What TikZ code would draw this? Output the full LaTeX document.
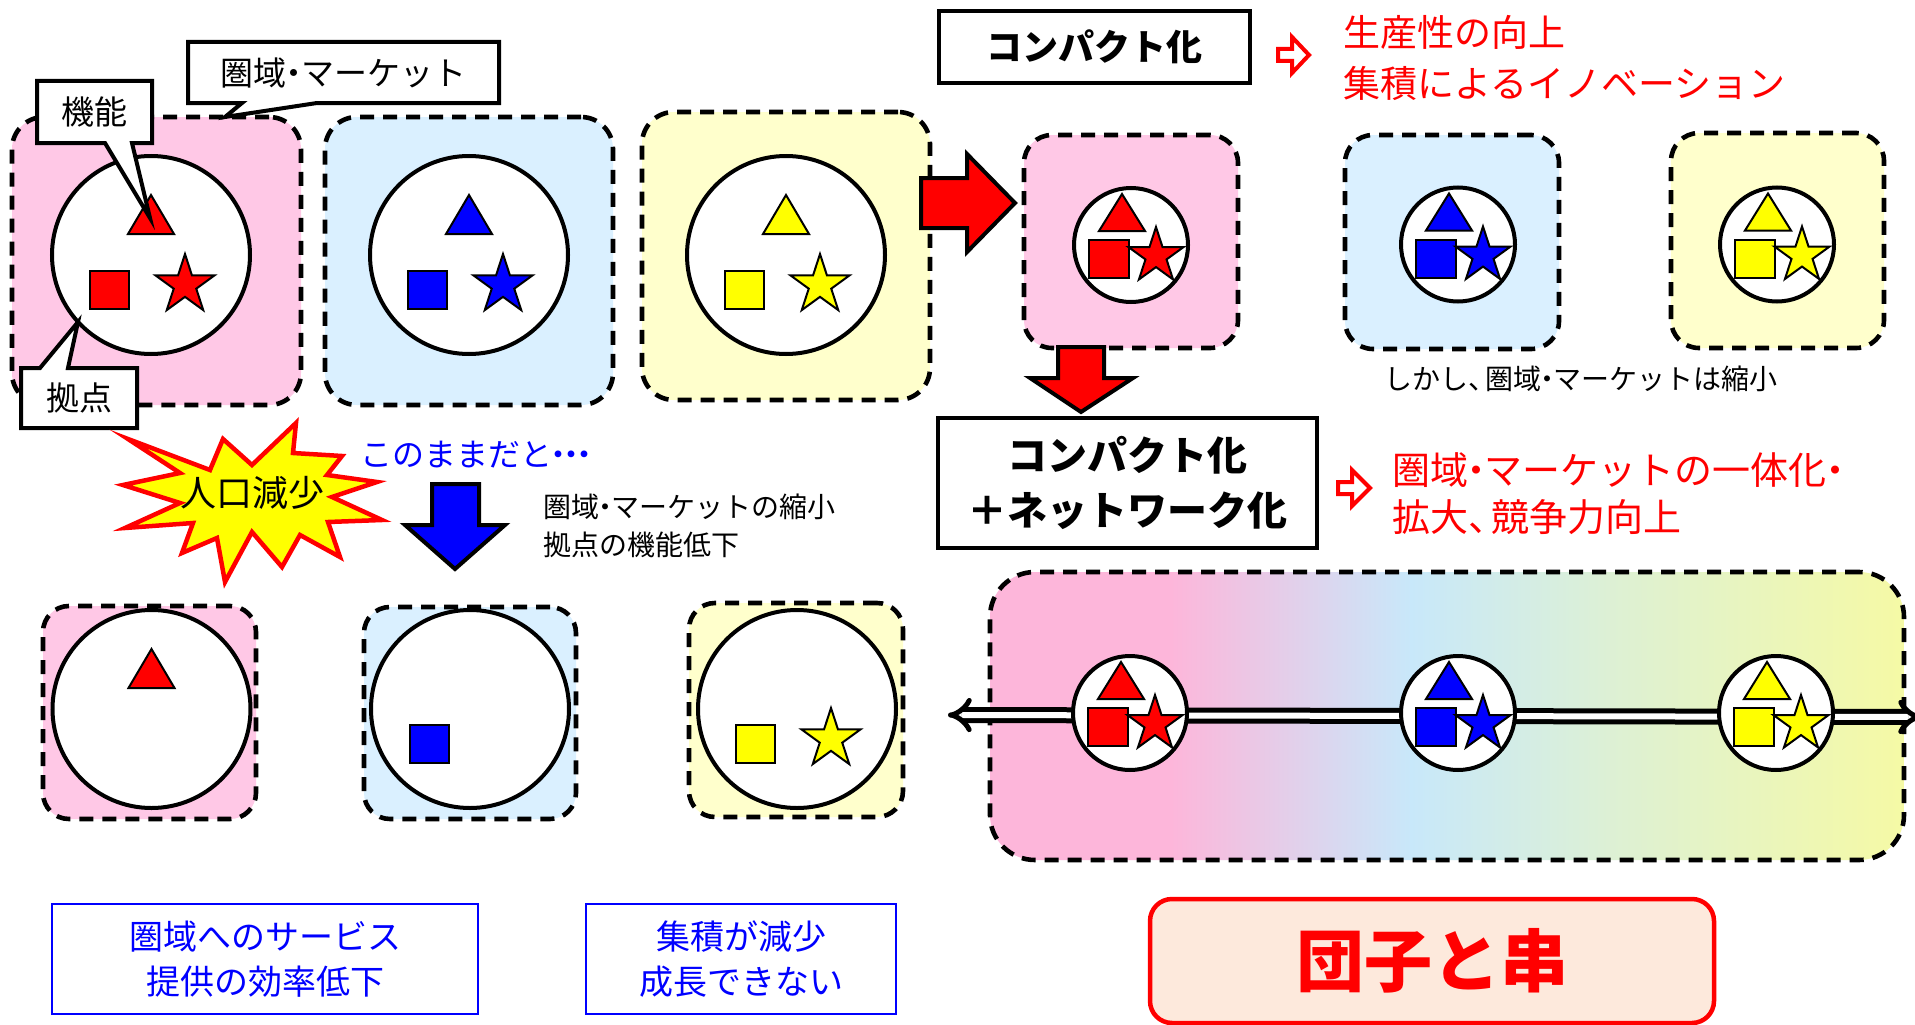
\documentclass[tikz,border=0pt]{standalone}
\usepackage{fontspec}
\setmainfont{Noto Sans CJK JP}
\usetikzlibrary{arrows.meta}
\definecolor{pinkA}{HTML}{FFC8E6}
\definecolor{blueA}{HTML}{DAF0FF}
\definecolor{yellowA}{HTML}{FFFFCC}
\definecolor{gpink}{HTML}{FDB6DA}
\definecolor{gblue}{HTML}{C8E8FA}
\definecolor{ggreen}{HTML}{DCF0D6}
\definecolor{gyellow}{HTML}{F6FAA4}
\definecolor{peach}{HTML}{FDE9DC}
\definecolor{shRed}{HTML}{FF0000}
\definecolor{shBlue}{HTML}{0000FF}
\definecolor{shYel}{HTML}{FFFF00}
\newcommand\fsz[2]{\fontsize{#1}{#2}\selectfont}
\newcommand\nd{\kern-0.28em・\kern-0.28em}
\newcommand\tc{、\kern-0.4em}
\newcommand\mystar[4]{\draw[shp,fill=#4,shift={(#1,#2)}] (-90:#3) -- (-54:{0.382*#3}) -- (-18:#3) -- (18:{0.382*#3}) -- (54:#3) -- (90:{0.382*#3}) -- (126:#3) -- (162:{0.382*#3}) -- (198:#3) -- (234:{0.382*#3}) -- cycle;}
\newcommand\setTri[3]{\draw[shp,fill=#3,shift={(#1,#2)}] (0,-60) -- (23,-21) -- (-23,-21) -- cycle;}
\newcommand\setSq[3]{\draw[shp,fill=#3,shift={(#1,#2)}] (-61,16) rectangle (-22,54);}
\newcommand\setStar[3]{\mystar{#1+34}{#2+30}{31}{#3}}
\newcommand\smallset[3]{%
 \draw[shp,fill=#3,shift={(#1,#2)}] (-9,-51) -- (14,-14) -- (-32,-14) -- cycle;
 \draw[shp,fill=#3,shift={(#1,#2)}] (-42,-5) rectangle (-2,33);
 \mystar{#1+25}{#2+11}{29}{#3}}
\tikzset{
 regionbox/.style={draw=black, line width=4.6pt, dash pattern=on 14pt off 9pt, rounded corners=32pt, inner sep=0pt},
 bigc/.style={circle, draw=black, line width=4pt, fill=white, minimum size=198pt, inner sep=0pt},
 smallc/.style={circle, draw=black, line width=4pt, fill=white, minimum size=114pt, inner sep=0pt},
 shp/.style={draw=black, line width=2pt, line join=miter},
 callout/.style={draw=black, line width=4pt, fill=white, line join=miter},
 lbl/.style={inner sep=0pt, font=\fsz{33}{38}},
 blockarrow/.style={draw=black, line width=4pt, line join=miter},
 hollowarrow/.style={draw=shRed, line width=4pt, fill=white, line join=miter},
 cbox/.style={draw=black, line width=3.5pt, fill=white, inner sep=0pt, align=center},
 txtbox/.style={draw=shBlue, line width=2pt, inner sep=0pt, align=center, text=shBlue, font=\fsz{34}{45}},
 redtxt/.style={text=shRed, anchor=west, align=left, inner sep=0pt},
 skewer/.style={draw=black, line width=5pt, double=white, double distance=6pt, {Implies}-{Implies}},
 burst/.style={draw=shRed, line width=4.5pt, fill=shYel, line join=miter}
}
\begin{document}
\begin{tikzpicture}[x=1pt,y=-1pt]
\useasboundingbox (0,0) rectangle (1915,1025);
\fill[white] (0,0) rectangle (1915,1025);

% ---- top row regions
\node[regionbox, fill=pinkA, minimum width=289pt, minimum height=288pt] (r1) at (156.5,261) {};
\node[regionbox, fill=blueA, minimum width=288pt, minimum height=288pt] (r2) at (469,261) {};
\node[regionbox, fill=yellowA, minimum width=288pt, minimum height=288pt] (r3) at (786,256) {};
\node[bigc] (c1) at (151,255) {};
\node[bigc] (c2) at (469,255) {};
\node[bigc] (c3) at (786,255) {};
\setTri{151}{255}{shRed}\setSq{151}{255}{shRed}\setStar{151}{255}{shRed}
\setTri{469}{255}{shBlue}\setSq{469}{255}{shBlue}\setStar{469}{255}{shBlue}
\setTri{786}{255}{shYel}\setSq{786}{255}{shYel}\setStar{786}{255}{shYel}

% callouts
\draw[callout] (37,81) -- (152,81) -- (152,143) -- (132,143) -- (150,218) -- (105,143) -- (37,143) -- cycle;
\node[lbl] (lKinou) at (94.5,112) {機能};
\draw[callout] (188,42) -- (499,42) -- (499,103) -- (317,103) -- (225,117) -- (242,103) -- (188,103) -- cycle;
\node[lbl] (lKen) at (343.5,72.5) {圏域\nd マーケット};
\draw[callout] (21,368) -- (40,368) -- (78,322) -- (68,368) -- (137,368) -- (137,428) -- (21,428) -- cycle;
\node[lbl] (lKyo) at (79,398) {拠点};

% red arrow right
\draw[blockarrow, fill=shRed] (921,178) -- (967,178) -- (967,154) -- (1015,203) -- (967,252) -- (967,228) -- (921,228) -- cycle;

% ---- compact row
\node[cbox, minimum width=311pt, minimum height=72pt, font=\bfseries\fsz{36}{42}] (cp1) at (1094.5,47) {コンパクト化};
\draw[hollowarrow] (1278,49) -- (1292,49) -- (1292,37) -- (1309,55) -- (1292,73) -- (1292,61) -- (1278,61) -- cycle;
\node[redtxt, font=\fsz{37}{51}] (t1) at (1343,58) {生産性の向上\\集積によるイノベーション};

\node[regionbox, rounded corners=28pt, fill=pinkA, minimum width=214pt, minimum height=213pt] (s1) at (1131,241.5) {};
\node[regionbox, rounded corners=28pt, fill=blueA, minimum width=214pt, minimum height=214pt] (s2) at (1452,242) {};
\node[regionbox, rounded corners=28pt, fill=yellowA, minimum width=213pt, minimum height=215pt] (s3) at (1777.5,240.5) {};
\node[smallc] (sc1) at (1131,245) {};
\node[smallc] (sc2) at (1458,244.5) {};
\node[smallc] (sc3) at (1777,244.5) {};
\smallset{1131}{245}{shRed}
\smallset{1458}{244.5}{shBlue}
\smallset{1777}{244.5}{shYel}
\node[inner sep=0pt, anchor=west, font=\fsz{28}{32}] (t2) at (1384,379) {しかし\tc 圏域\nd マーケットは縮小};

% red down arrow
\draw[blockarrow, fill=shRed] (1058,347) -- (1104,347) -- (1104,378) -- (1133,378) -- (1081,412) -- (1030,378) -- (1058,378) -- cycle;

\node[cbox, minimum width=379pt, minimum height=130pt, font=\bfseries\fsz{40}{55}] (cp2) at (1127.5,483) {コンパクト化\\＋ネットワーク化};
\draw[hollowarrow] (1338,482) -- (1352,482) -- (1352,470) -- (1370,488) -- (1352,506) -- (1352,494) -- (1338,494) -- cycle;
\node[redtxt, font=\fsz{38}{47}] (t3) at (1392,494) {圏域\nd マーケットの一体化\nd\\拡大\tc 競争力向上};

% ---- gradient region
\begin{scope}
\clip[rounded corners=45pt] (990,572) rectangle (1904,860);
\fill[gpink] (985,565) rectangle (1172,865);
\shade[left color=gpink, right color=gblue] (1170,565) rectangle (1412,865);
\shade[left color=gblue, right color=ggreen] (1410,565) rectangle (1602,865);
\shade[left color=ggreen, right color=gyellow] (1600,565) rectangle (1910,865);
\end{scope}
\node[regionbox, rounded corners=45pt, minimum width=914pt, minimum height=288pt] (grad) at (1447,716) {};
\coordinate (skL) at (948,715);
\coordinate (skR) at (1922,717);
\draw[skewer] (skL) -- (skR);
\node[smallc] (gc1) at (1130,713) {};
\node[smallc] (gc2) at (1458,713) {};
\node[smallc] (gc3) at (1776,713) {};
\smallset{1130}{713}{shRed}
\smallset{1458}{713}{shBlue}
\smallset{1776}{713}{shYel}

% ---- starburst and decline
\draw[burst] (296,423) -- (293,453) -- (342,456) -- (327,475) -- (377,482) -- (332,497) -- (382,520) -- (328,522) -- (340,557) -- (300,535) -- (282,567) -- (252,532) -- (225,582) -- (217,538) -- (182,553) -- (193,523) -- (125,528) -- (180,503) -- (123,485) -- (180,473) -- (128,439) -- (210,470) -- (223,439) -- (252,465) -- cycle;
\node[inner sep=0pt, font=\fsz{36}{40}] (pop) at (252,493) {人口減少};
\node[inner sep=0pt, anchor=west, text=shBlue, font=\fsz{32}{36}] (t4) at (360,455) {このままだと\kern-0.3em・\kern-0.6em・\kern-0.6em・};
\draw[blockarrow, fill=shBlue] (432,484) -- (479,484) -- (479,525) -- (505,525) -- (455,569) -- (405,525) -- (432,525) -- cycle;
\node[inner sep=0pt, anchor=west, align=left, font=\fsz{28}{38}] (t5) at (543,526) {圏域\nd マーケットの縮小\\拠点の機能低下};

% ---- lower row
\node[regionbox, rounded corners=26pt, fill=pinkA, minimum width=213pt, minimum height=213pt] (b1) at (149.5,712.5) {};
\node[regionbox, rounded corners=26pt, fill=blueA, minimum width=212pt, minimum height=212pt] (b2) at (470,713) {};
\node[regionbox, rounded corners=26pt, fill=yellowA, minimum width=214pt, minimum height=214pt] (b3) at (796,710) {};
\node[bigc] (bc1) at (151.5,709) {};
\node[bigc] (bc2) at (470,709) {};
\node[bigc] (bc3) at (797,709) {};
\setTri{151.5}{709}{shRed}
\setSq{471}{709}{shBlue}
\setSq{797}{709}{shYel}\setStar{797}{709}{shYel}

% ---- bottom text boxes
\node[txtbox, minimum width=426pt, minimum height=110pt] (bA) at (265,959) {圏域へのサービス\\提供の効率低下};
\node[txtbox, minimum width=310pt, minimum height=110pt] (bB) at (741,959) {集積が減少\\成長できない};
\node[draw=shRed, line width=4.5pt, fill=peach, rounded corners=22pt, minimum width=564pt, minimum height=124pt, inner sep=0pt, text=shRed, font=\bfseries\fsz{68}{72}] (dango) at (1432,961) {団子と串};
\end{tikzpicture}
\end{document}
